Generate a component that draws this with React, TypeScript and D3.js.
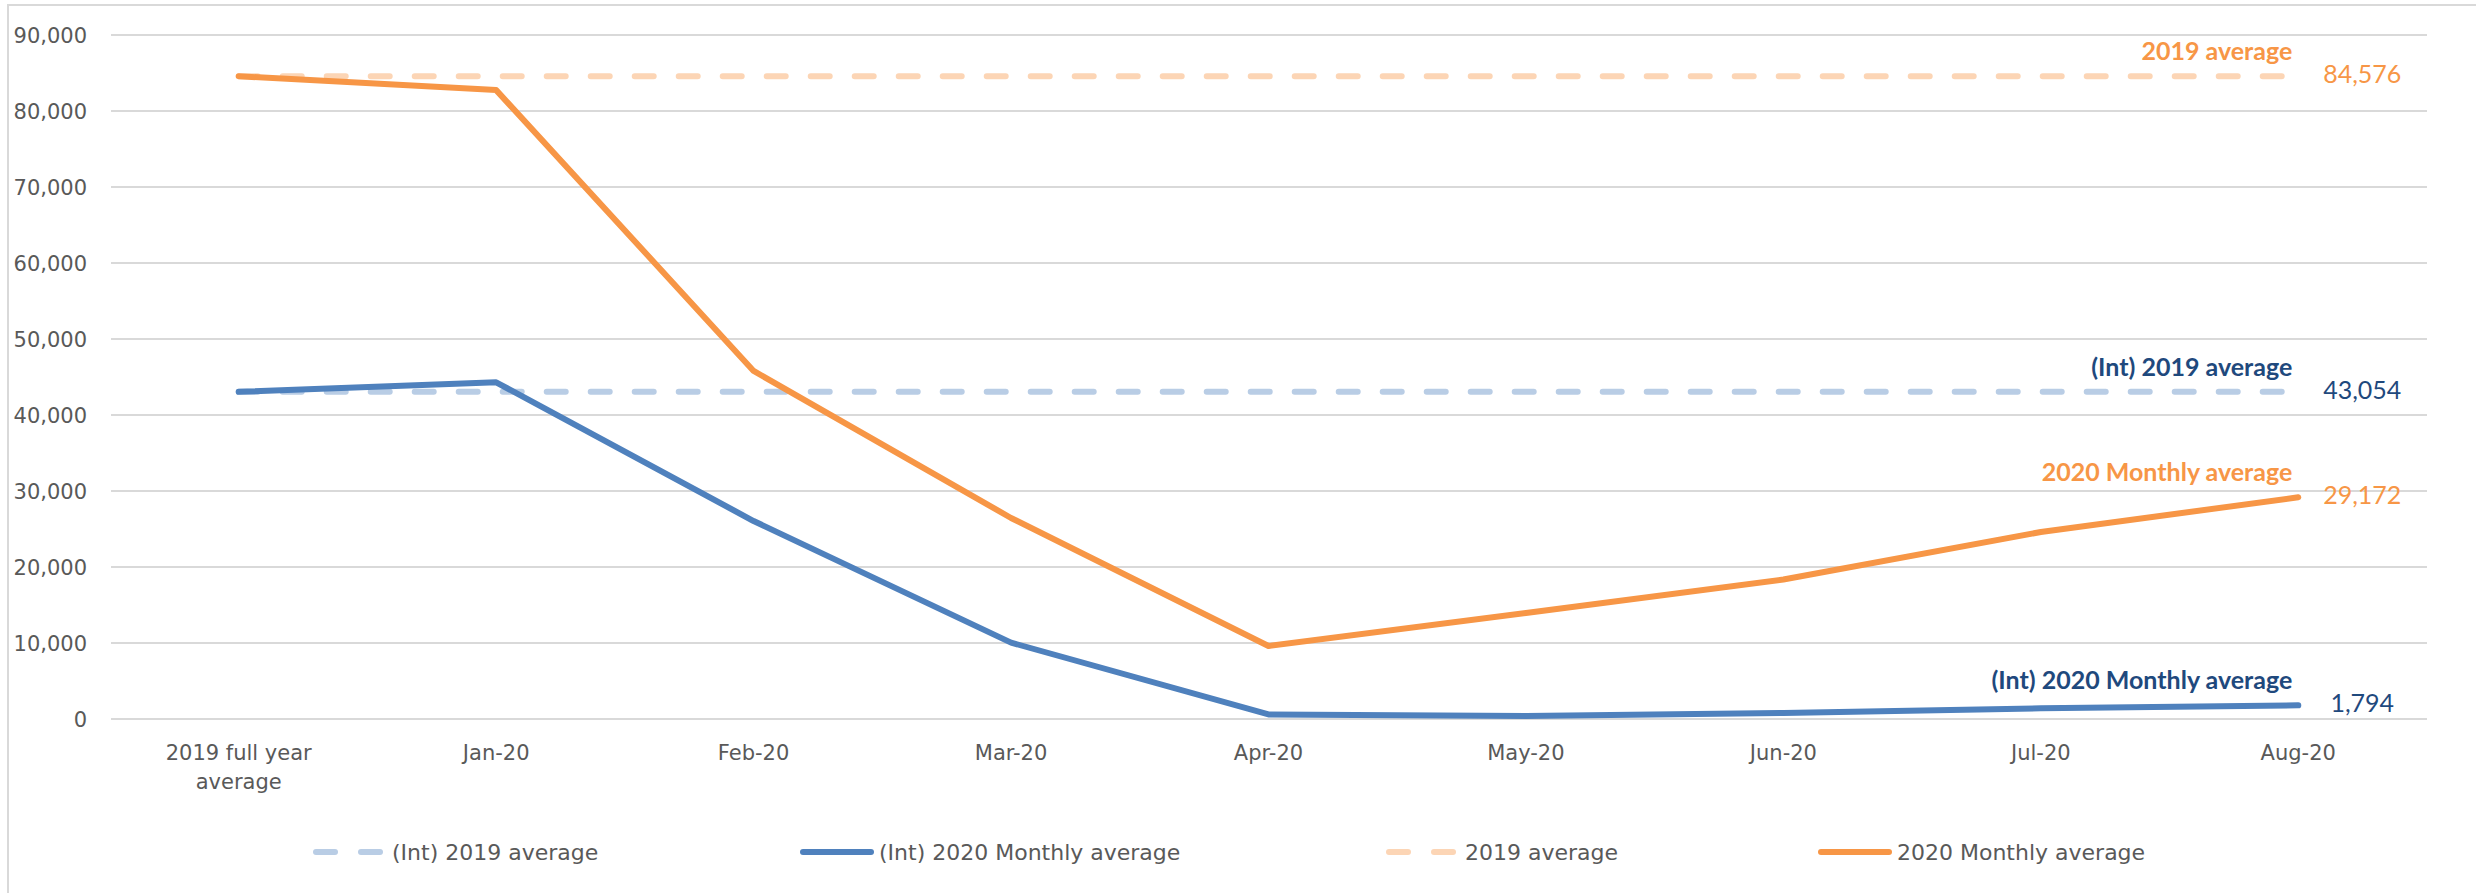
import { useEffect } from "react";
import * as d3 from "d3";

const categories = [
  "2019 full year average",
  "Jan-20",
  "Feb-20",
  "Mar-20",
  "Apr-20",
  "May-20",
  "Jun-20",
  "Jul-20",
  "Aug-20",
];
// tick label lines (first category wraps)
const tickLines = [
  ["2019 full year", "average"],
  ["Jan-20"],
  ["Feb-20"],
  ["Mar-20"],
  ["Apr-20"],
  ["May-20"],
  ["Jun-20"],
  ["Jul-20"],
  ["Aug-20"],
];

const intMonthly2020 = [43054, 44300, 26050, 10050, 600, 400, 800, 1400, 1794];
const monthly2020 = [84576, 82750, 45800, 26450, 9600, 13950, 18350, 24600, 29172];
const intAvg2019 = 43054;
const avg2019 = 84576;

const seriesNames = [
  "(Int) 2019 average",
  "(Int) 2020 Monthly average",
  "2019 average",
  "2020 Monthly average",
];

const W = 2476;
const H = 893;

const C = {
  blue: "#4f81bd",
  blueLight: "#b9cde5",
  orange: "#f79646",
  orangeLight: "#fcd5b5",
  navy: "#1f497d",
  grid: "#d9d9d9",
  text: "#595959",
};

const axisFont = "'DejaVu Sans', sans-serif";
const noteFont = "Lato, 'Open Sans', sans-serif";

export default function App() {
  useEffect(() => {
    document.body.style.margin = "0";
  }, []);

  const x = d3.scaleBand<string>().domain(categories).range([110, 2427]);
  const cx = (i: number) => (x(categories[i]) as number) + x.bandwidth() / 2;
  const y = d3.scaleLinear().domain([0, 90000]).range([719, 35]);
  const fmt = d3.format(",");

  const line = d3
    .line<number>()
    .x((_, i) => cx(i))
    .y((d) => y(d));

  const flat = (v: number) => categories.map(() => v);
  const last = categories.length - 1;
  const lastX = cx(last);

  const series = [
    { name: seriesNames[0], values: flat(intAvg2019), color: C.blueLight, dash: true, label: C.navy },
    { name: seriesNames[1], values: intMonthly2020, color: C.blue, dash: false, label: C.navy },
    { name: seriesNames[2], values: flat(avg2019), color: C.orangeLight, dash: true, label: C.orange },
    { name: seriesNames[3], values: monthly2020, color: C.orange, dash: false, label: C.orange },
  ];

  const legendX = [313, 800, 1386, 1818];
  const legendY = 852;

  return (
    <svg width={W} height={H} style={{ display: "block", background: "#fff" }}>
      <rect x={8} y={5} width={W} height={H} fill="none" stroke={C.grid} strokeWidth={2} />

      {y.ticks(9).map((t) => (
        <g key={t}>
          <line x1={111} x2={2427} y1={y(t)} y2={y(t)} stroke={C.grid} strokeWidth={2} />
          <text
            x={87}
            y={y(t)}
            dy="0.36em"
            textAnchor="end"
            fontFamily={axisFont}
            fontSize={21}
            fill={C.text}
          >
            {fmt(t)}
          </text>
        </g>
      ))}

      {tickLines.map((lines, i) => (
        <text
          key={i}
          x={cx(i)}
          y={752}
          textAnchor="middle"
          fontFamily={axisFont}
          fontSize={21}
          fill={C.text}
        >
          {lines.map((l, j) => (
            <tspan key={j} x={cx(i)} dy={j === 0 ? "0.36em" : 29}>
              {l}
            </tspan>
          ))}
        </text>
      ))}

      {series.map((s) => (
        <path
          key={s.name}
          d={line(s.values) || ""}
          fill="none"
          stroke={s.color}
          strokeWidth={6}
          strokeLinecap="round"
          strokeLinejoin="round"
          strokeDasharray={s.dash ? "19,25" : undefined}
        />
      ))}

      {series.map((s) => {
        const ly = y(s.values[last]);
        return (
          <g key={s.name + "-lbl"} fontFamily={noteFont} fill={s.label}>
            <text x={lastX - 6} y={ly - 25} dy="0.36em" textAnchor="end" fontSize={25} fontWeight={700}>
              {s.name}
            </text>
            <text x={lastX + 64} y={ly - 2} dy="0.36em" textAnchor="middle" fontSize={25}>
              {fmt(s.values[last])}
            </text>
          </g>
        );
      })}

      {series.map((s, i) => {
        const lx = legendX[i];
        return (
          <g key={s.name + "-leg"}>
            {s.dash ? (
              <>
                <line x1={lx + 3} x2={lx + 22} y1={legendY} y2={legendY} stroke={s.color} strokeWidth={6} strokeLinecap="round" />
                <line x1={lx + 48} x2={lx + 67} y1={legendY} y2={legendY} stroke={s.color} strokeWidth={6} strokeLinecap="round" />
              </>
            ) : (
              <line x1={lx + 3} x2={lx + 71} y1={legendY} y2={legendY} stroke={s.color} strokeWidth={6} strokeLinecap="round" />
            )}
            <text
              x={lx + 79}
              y={legendY}
              dy="0.36em"
              fontFamily={axisFont}
              fontSize={22}
              fill={C.text}
            >
              {s.name}
            </text>
          </g>
        );
      })}
    </svg>
  );
}
